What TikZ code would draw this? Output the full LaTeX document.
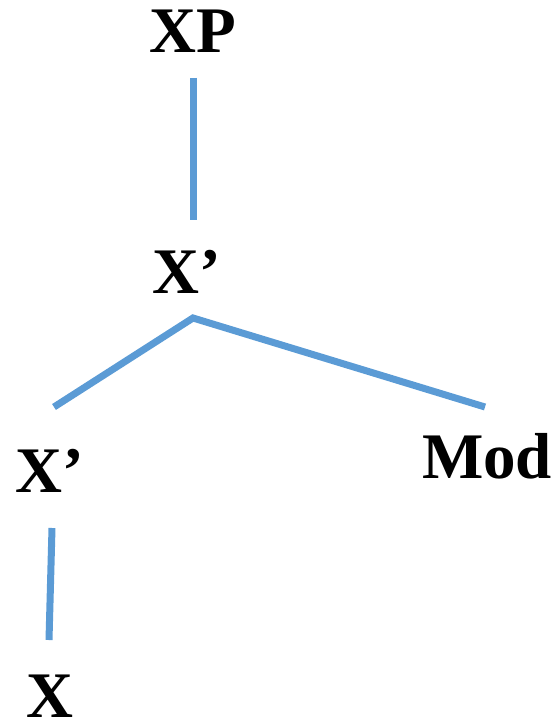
\documentclass[tikz,border=0pt]{standalone}
\usepackage{fontspec}
\setmainfont{Liberation Serif}
\definecolor{treeblue}{RGB}{91,155,213}
\begin{document}
\begin{tikzpicture}[x=1pt,y=-1pt,
  lab/.style={inner sep=0pt,anchor=base,font=\fontsize{65}{65}\selectfont\bfseries},
  branch/.style={draw=treeblue,line width=7pt}]
\useasboundingbox (0,0) rectangle (557,727);
\node[lab] (xp) at (193,53) {XP};
\node[lab] (xbar1) at (187,293) {X’};
\node[lab] (xbar2) at (50,492) {X’};
\node[lab] (mod) at (487,478) {Mod};
\node[lab] (x) at (50,717) {X};
\coordinate (xpfoot) at (193,78);
\coordinate (xbarhead) at (193,220);
\coordinate (xbarfoot) at (193,318);
\coordinate (xbtwohead) at (54,407);
\coordinate (modhead) at (485,407);
\coordinate (xbtwofoot) at (52,528);
\coordinate (xhead) at (49,640);
\draw[branch] (xpfoot) -- (xbarhead);
\draw[branch] (xbtwohead) -- (xbarfoot) -- (modhead);
\draw[branch] (xbtwofoot) -- (xhead);
\end{tikzpicture}
\end{document}
